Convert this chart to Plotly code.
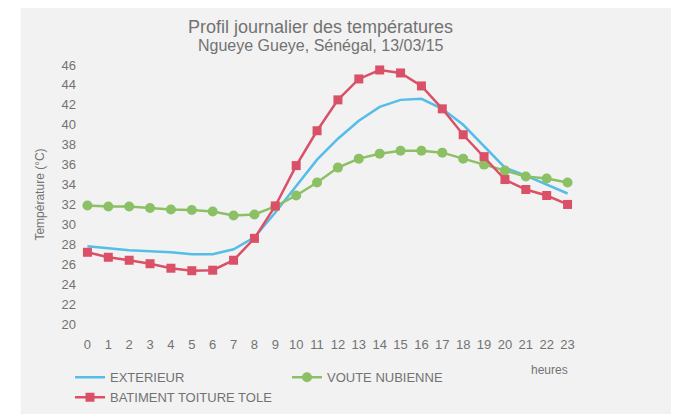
import plotly.graph_objects as go

hours = list(range(24))
hour_labels = [str(h) for h in hours]
exterieur = [27.8, 27.6, 27.4, 27.3, 27.2, 27.0, 27.0, 27.5, 28.7, 31.2, 33.8, 36.5,
             38.6, 40.4, 41.8, 42.5, 42.6, 41.6, 40.0, 37.8, 35.7, 34.9, 34.0, 33.1]
voute = [31.9, 31.8, 31.8, 31.65, 31.5, 31.45, 31.3, 30.9, 31.0, 31.8, 32.9, 34.2,
         35.7, 36.6, 37.1, 37.4, 37.4, 37.2, 36.6, 36.0, 35.4, 34.8, 34.6, 34.2]
batiment = [27.2, 26.7, 26.4, 26.05, 25.6, 25.35, 25.4, 26.4, 28.6, 31.85, 35.9, 39.4,
            42.5, 44.6, 45.5, 45.2, 43.9, 41.6, 39.0, 36.8, 34.5, 33.5, 32.9, 32.0]
y_ticks = list(range(20, 47, 2))

BLUE = "#55bde8"
GREEN = "#8cc064"
RED = "#da5067"
TXT = "#727272"
FONT = "Liberation Sans"

fig = go.Figure()
fig.add_trace(go.Scatter(x=hours, y=exterieur, name="EXTERIEUR", mode="lines",
                         line=dict(color=BLUE, width=2.5)))
fig.add_trace(go.Scatter(x=hours, y=voute, name="VOUTE NUBIENNE", mode="lines+markers",
                         line=dict(color=GREEN, width=2.5),
                         marker=dict(symbol="circle", size=10, color=GREEN)))
fig.add_trace(go.Scatter(x=hours, y=batiment, name="BATIMENT TOITURE TOLE", mode="lines+markers",
                         line=dict(color=RED, width=2.5),
                         marker=dict(symbol="square", size=9, color=RED)))

fig.update_layout(
    width=679, height=414,
    margin=dict(l=68.5, r=108.5, t=57, b=98, pad=0, autoexpand=False),
    paper_bgcolor="white",
    plot_bgcolor="rgba(0,0,0,0)",
    font=dict(family=FONT, color=TXT, size=12),
    showlegend=True,
    legend=dict(orientation="h", x=-0.014, xanchor="left", y=-0.148, yanchor="top",
                entrywidth=172, entrywidthmode="pixels",
                font=dict(size=13, color=TXT, family=FONT),
                bgcolor="rgba(0,0,0,0)", tracegroupgap=0, itemwidth=30),
    xaxis=dict(range=[-0.5, 23.5], tickmode="array", tickvals=hours, ticktext=hour_labels,
               showgrid=False, zeroline=False, showline=False,
               ticks="outside", ticklen=8, tickcolor="rgba(0,0,0,0)",
               tickfont=dict(size=13, color=TXT)),
    yaxis=dict(range=[20, 46], tickmode="array", tickvals=y_ticks,
               showgrid=False, zeroline=False, showline=False,
               tickfont=dict(size=13, color=TXT),
               title=dict(text="Température (°C)", font=dict(size=12, color=TXT), standoff=14)),
    shapes=[dict(type="rect", xref="paper", yref="paper", x0=-0.1125, x1=1.19, y0=-0.5, y1=1.2317,
                 fillcolor="#f2f2f2", line=dict(width=0), layer="below")],
    annotations=[
        dict(text="Profil journalier des températures", xref="paper", yref="paper",
             x=0.487, y=(324 - 27) / 259, xanchor="center", yanchor="middle", showarrow=False,
             font=dict(size=18, color=TXT, family=FONT)),
        dict(text="Ngueye Gueye, Sénégal, 13/03/15", xref="paper", yref="paper",
             x=0.487, y=(324 - 46) / 259, xanchor="center", yanchor="middle", showarrow=False,
             font=dict(size=16, color=TXT, family=FONT)),
        dict(text="heures", xref="paper", yref="paper",
             x=(550 - 76.5) / 502, y=(324 - 370) / 259, xanchor="center", yanchor="middle",
             showarrow=False, font=dict(size=12, color=TXT, family=FONT)),
    ],
)

fig.write_html("out.html")
